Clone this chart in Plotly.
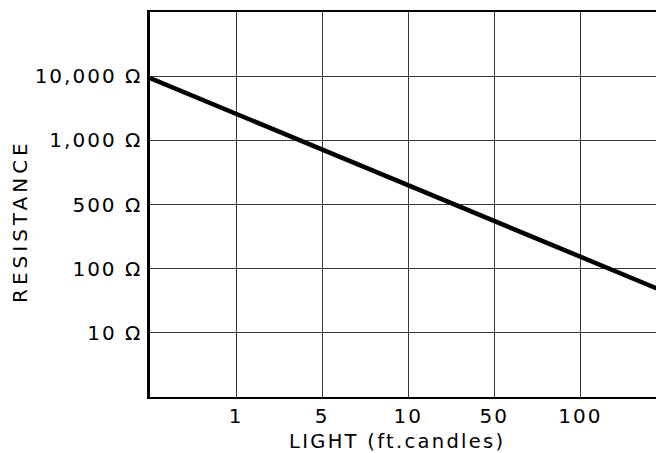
import plotly.graph_objects as go

# Tick labels (evenly spaced, as printed on the chart)
light_labels = ["1", "5", "10", "50", "100"]
resistance_labels = ["10 Ω", "100 Ω", "500 Ω", "1,000 Ω", "10,000 Ω"]

# Curve, in chart grid units (x: light-scale position, y: resistance-scale position)
light_pos = [0, 6]
resistance_pos = [4.97, 1.63]

FONT = "DejaVu Sans"
LS = "letter-spacing:2px"

W, H = 656, 453
L, R, T, B = 150, 0, 12, 56

fig = go.Figure()
fig.add_trace(go.Scatter(
    x=light_pos, y=resistance_pos, mode="lines",
    line=dict(color="black", width=4.5),
    showlegend=False, hoverinfo="skip",
))

fig.update_layout(
    width=W, height=H,
    margin=dict(l=L, r=R, t=T, b=B),
    paper_bgcolor="white", plot_bgcolor="white",
    font=dict(family=FONT, size=20, color="black"),
    xaxis=dict(
        range=[0, 5.88],
        tickvals=list(range(1, len(light_labels) + 1)),
        ticktext=[f'<span style="{LS}">{t}</span>' for t in light_labels],
        showgrid=True, gridcolor="#3a3a3a", gridwidth=1,
        showline=True, linecolor="black", linewidth=2, mirror=True,
        ticks="", ticklabelstandoff=0, zeroline=False,
        fixedrange=True,
    ),
    yaxis=dict(
        range=[0, 6],
        tickvals=list(range(1, len(resistance_labels) + 1)),
        ticktext=[f'<span style="{LS}">{t}</span>' for t in resistance_labels],
        showgrid=True, gridcolor="#3a3a3a", gridwidth=1,
        showline=True, linecolor="black", linewidth=2.5,
        ticks="", ticklabelstandoff=1, zeroline=False,
        fixedrange=True,
    ),
)

pw = W - L - R
ph = H - T - B
fig.add_annotation(
    text='<span style="letter-spacing:4px">RESISTANCE</span>',
    textangle=-90, showarrow=False,
    xref="paper", yref="paper",
    x=(20 - L) / pw, y=(H - B - 221) / ph,
    xanchor="center", yanchor="middle",
    font=dict(family=FONT, size=20, color="black"),
)
fig.add_annotation(
    text='<span style="letter-spacing:2.3px">LIGHT (ft.candles)</span>',
    showarrow=False,
    xref="paper", yref="paper",
    x=(397 - L) / pw, y=(H - B - 441) / ph,
    xanchor="center", yanchor="middle",
    font=dict(family=FONT, size=19.5, color="black"),
)

fig.write_html(
    "out.html",
    config={"displayModeBar": False},
    post_script="document.body.style.margin='0';document.body.style.overflow='hidden';",
)
